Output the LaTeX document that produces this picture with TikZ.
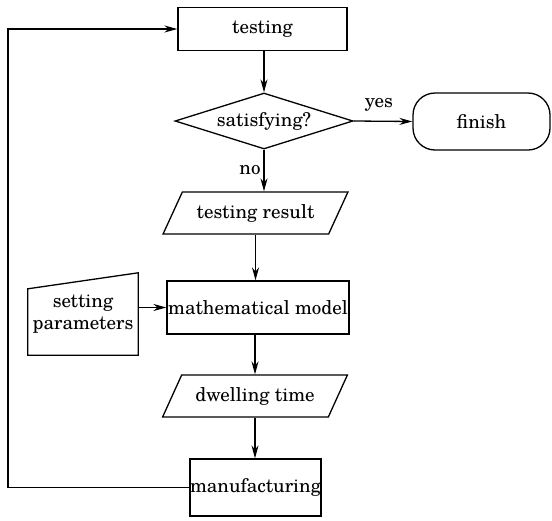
\documentclass[tikz,border=0pt]{standalone}
\usepackage{fontspec}
\setmainfont{TeX Gyre Schola}
\usetikzlibrary{shapes.geometric,arrows.meta}
\begin{document}
\begin{tikzpicture}[x=1pt,y=-1pt,
  every node/.style={font=\fontsize{19}{21}\selectfont, inner sep=0pt},
  line/.style={line width=1.3pt},
  arr/.style={line, -{Stealth[length=13pt,width=7pt]}},
  box/.style={draw, line width=1.3pt, rectangle},
  para/.style={draw, line width=1.3pt, trapezium, trapezium left angle=49, trapezium right angle=131, trapezium stretches=true, minimum width=185pt, minimum height=42pt},
]
\useasboundingbox (0,0) rectangle (552,520);
\node[box, minimum width=169pt, minimum height=43pt] (test) at (262.5,29) {testing};
\node[draw, line width=1.3pt, diamond, aspect=3.2, minimum width=178pt, minimum height=56pt] (diam) at (264,121) {satisfying?};
\node[draw, line width=1.3pt, rectangle, rounded corners=22pt, minimum width=137pt, minimum height=57pt] (fin) at (481.5,121.5) {finish};
\node (yes) at (379,105) {yes};
\node (no) at (250,170) {no};
\node[para] (tr) at (255.5,213) {testing result};
\node[box, minimum width=182pt, minimum height=53pt] (mm) at (258,307.5) {mathematical model};
\node[minimum width=110pt, minimum height=82pt, align=center, font=\fontsize{19}{22}\selectfont] (sp) at (83,314) {setting\\parameters};
\draw[line] (sp.south west) -- (sp.south east) -- (sp.north east) -- ([yshift=-16pt]sp.north west) -- cycle;
\node[para] (dw) at (255,396) {dwelling time};
\node[box, minimum width=131pt, minimum height=57pt] (man) at (255.5,487.5) {manufacturing};
\coordinate (lp) at (8,260);
\draw[arr] (diam.north |- test.south) -- (diam.north);
\draw[arr] (diam.east) -- (fin.west);
\draw[arr] (diam.south) -- (diam.south |- tr.north);
\draw[arr] (tr.south) -- (tr.south |- mm.north);
\draw[arr] (mm.west -| sp.east) -- (mm.west);
\draw[arr] (mm.south -| dw.north) -- (dw.north);
\draw[arr] (dw.south) -- (dw.south |- man.north);
\draw[arr] (man.west) -- (man.west -| lp) -- (test.west -| lp) -- (test.west);
\end{tikzpicture}
\end{document}
